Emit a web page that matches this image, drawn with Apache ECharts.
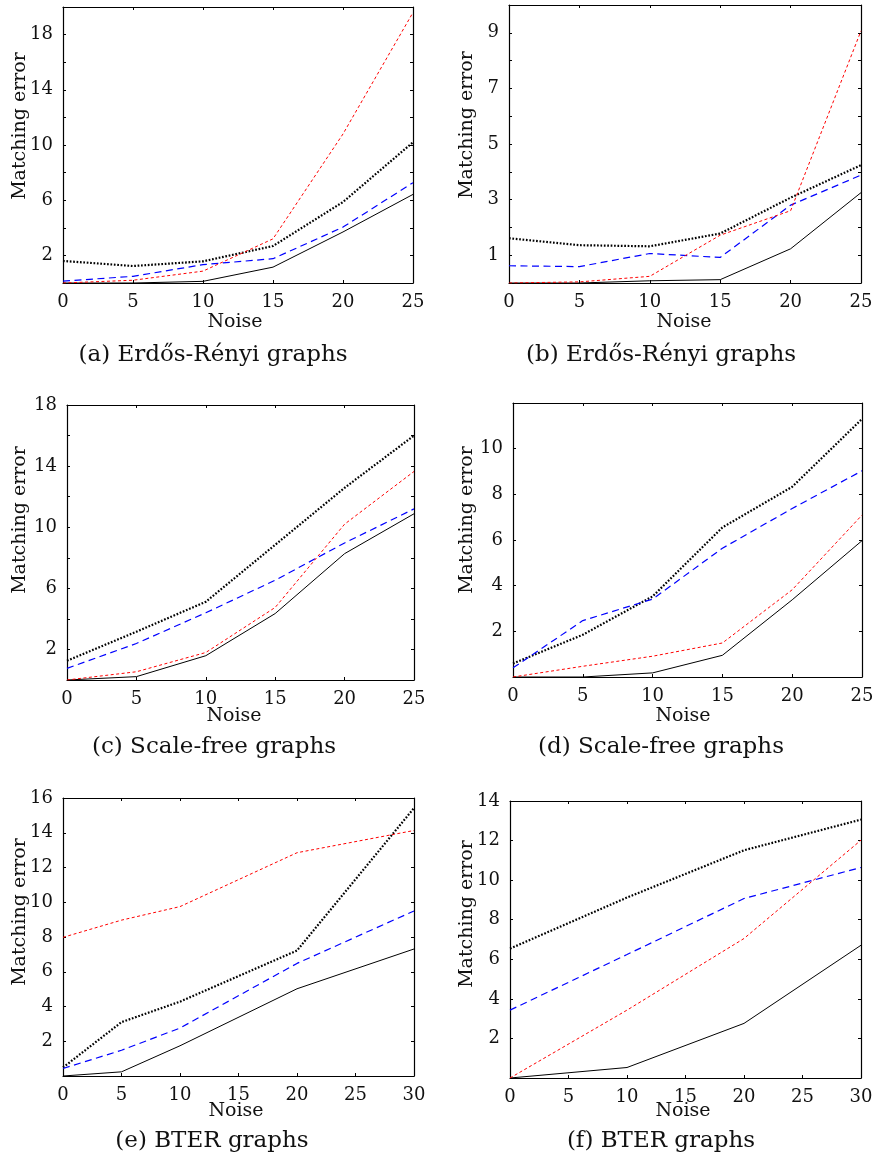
<!DOCTYPE html>
<html>
<head>
<meta charset="utf-8">
<script src="https://cdn.jsdelivr.net/npm/echarts@6/dist/echarts.min.js"></script>
<style>
html,body{margin:0;padding:0;background:#fff;}
#chart{width:881px;height:1158px;}
</style>
</head>
<body>
<div id="chart"></div>
<script>
// ---------- data ----------
const noise25 = [0, 5, 10, 15, 20, 25];
const noiseE = [0, 5, 10, 20, 30];
const noiseF = [0, 10, 20, 30];

const captions = ['(a) Erdős-Rényi graphs', '(b) Erdős-Rényi graphs', '(c) Scale-free graphs',
                  '(d) Scale-free graphs', '(e) BTER graphs', '(f) BTER graphs'];
const yAxisName = 'Matching error';
const xAxisName = 'Noise';

// panel (a)
const aSolid  = [0, 0, 0.12, 1.15, 3.7, 6.42];
const aDotted = [1.6, 1.23, 1.57, 2.68, 5.87, 10.2];
const aBlue   = [0.14, 0.48, 1.33, 1.76, 4.05, 7.27];
const aRed    = [0, 0.2, 0.86, 3.2, 10.8, 19.6];
// panel (b)
const bSolid  = [0, 0, 0.08, 0.12, 1.23, 3.25];
const bDotted = [1.61, 1.36, 1.32, 1.78, 3.07, 4.24];
const bBlue   = [0.62, 0.59, 1.06, 0.92, 2.8, 3.88];
const bRed    = [0, 0.04, 0.24, 1.72, 2.6, 9.07];
// panel (c)
const cSolid  = [0, 0.22, 1.59, 4.35, 8.27, 10.88];
const cDotted = [1.26, 3.16, 5.12, 8.85, 12.58, 16.0];
const cBlue   = [0.76, 2.39, 4.4, 6.53, 8.97, 11.2];
const cRed    = [0, 0.54, 1.8, 4.75, 10.2, 13.65];
// panel (d)
const dSolid  = [0, 0, 0.18, 0.95, 3.38, 5.97];
const dDotted = [0.59, 1.85, 3.53, 6.55, 8.33, 11.3];
const dBlue   = [0.4, 2.47, 3.41, 5.64, 7.38, 9.03];
const dRed    = [0, 0.47, 0.91, 1.49, 3.82, 7.09];
// panel (e)
const eSolid  = [0, 0.24, 1.74, 5.02, 7.31];
const eDotted = [0.49, 3.1, 4.28, 7.22, 15.42];
const eBlue   = [0.43, 1.48, 2.76, 6.48, 9.5];
const eRed    = [7.98, 8.97, 9.75, 12.85, 14.13];
// panel (f)
const fSolid  = [0, 0.53, 2.76, 6.71];
const fDotted = [6.54, 9.12, 11.51, 13.06];
const fBlue   = [3.43, 6.24, 9.07, 10.64];
const fRed    = [0, 3.43, 7.05, 12.02];

// ---------- layout / styles ----------
const FONT = 'DejaVu Serif';
const panels = [
  { x: noise25, data: [aSolid, aDotted, aBlue, aRed], xMax: 25, yMax: 20, yInt: 2, lab: v => v % 4 === 2,
    grid: {left: 63, top: 7, width: 350, height: 276}, yName: [20, 126], xName: [235, 322], cap: [213, 355] },
  { x: noise25, data: [bSolid, bDotted, bBlue, bRed], xMax: 25, yMax: 10, yInt: 1, lab: v => v % 2 === 1,
    grid: {left: 509, top: 5, width: 352, height: 278}, yName: [467, 125], xName: [684, 322], cap: [661, 355] },
  { x: noise25, data: [cSolid, cDotted, cBlue, cRed], xMax: 25, yMax: 18, yInt: 2, lab: v => v % 4 === 2,
    grid: {left: 67, top: 405, width: 347, height: 275}, yName: [20, 520], xName: [234, 716], cap: [214, 747] },
  { x: noise25, data: [dSolid, dDotted, dBlue, dRed], xMax: 25, yMax: 12, yInt: 2, lab: v => v > 0 && v < 12,
    grid: {left: 513, top: 403, width: 349, height: 274}, yName: [467, 520], xName: [683, 716], cap: [661, 747] },
  { x: noiseE, data: [eSolid, eDotted, eBlue, eRed], xMax: 30, yMax: 16, yInt: 2, lab: v => v > 0,
    grid: {left: 63, top: 798, width: 351, height: 278}, yName: [20, 912], xName: [236, 1111], cap: [212, 1141] },
  { x: noiseF, data: [fSolid, fDotted, fBlue, fRed], xMax: 30, yMax: 14, yInt: 2, lab: v => v > 0,
    grid: {left: 510, top: 801, width: 351, height: 277}, yName: [467, 914], xName: [683, 1111], cap: [661, 1141] }
];

const lineStyles = [
  {color: '#000000', width: 1, type: 'solid'},
  {color: '#000000', width: 2.2, type: [1.7, 1.7]},
  {color: '#0000ff', width: 1.2, type: [7, 4.5]},
  {color: '#ff0000', width: 1, type: [3, 2.5]}
];

const grids = [], xAxes = [], yAxes = [], series = [], graphics = [];
panels.forEach((p, i) => {
  grids.push(Object.assign({containLabel: false, show: false}, p.grid));
  const baseX = {type: 'value', gridIndex: i, min: 0, max: p.xMax, interval: 5,
    axisLine: {show: true, onZero: false, lineStyle: {color: '#000', width: 1.2}},
    axisTick: {show: true, inside: true, length: 3, lineStyle: {color: '#000'}},
    splitLine: {show: false}};
  xAxes.push(Object.assign({}, baseX, {position: 'bottom',
    axisLabel: {show: true, margin: 10, color: '#111', fontFamily: FONT, fontSize: 18}}));
  xAxes.push(Object.assign({}, baseX, {position: 'top', axisLabel: {show: false}}));
  const baseY = {type: 'value', gridIndex: i, min: 0, max: p.yMax, interval: p.yInt,
    axisLine: {show: true, onZero: false, lineStyle: {color: '#000', width: 1.2}},
    axisTick: {show: true, inside: true, length: 3, lineStyle: {color: '#000'}},
    splitLine: {show: false}};
  yAxes.push(Object.assign({}, baseY, {position: 'left',
    axisLabel: {show: true, margin: 10, color: '#111', fontFamily: FONT, fontSize: 18,
      formatter: v => (p.lab(v) ? String(v) : '')}}));
  yAxes.push(Object.assign({}, baseY, {position: 'right', axisLabel: {show: false}}));
  p.data.forEach((vals, k) => {
    series.push({type: 'line', xAxisIndex: 2 * i, yAxisIndex: 2 * i,
      data: p.x.map((xv, j) => [xv, vals[j]]),
      showSymbol: false, symbol: 'none', animation: false, silent: true,
      lineStyle: Object.assign({cap: 'butt'}, lineStyles[k]), z: 2 + k});
  });
  graphics.push({type: 'text', x: p.yName[0], y: p.yName[1], rotation: Math.PI / 2,
    style: {text: yAxisName, font: '19px "' + FONT + '"', fill: '#111',
      textAlign: 'center', textVerticalAlign: 'middle', align: 'center', verticalAlign: 'middle'}});
  graphics.push({type: 'text', x: p.xName[0], y: p.xName[1],
    style: {text: xAxisName, font: '19px "' + FONT + '"', fill: '#111',
      textAlign: 'center', textVerticalAlign: 'middle', align: 'center', verticalAlign: 'middle'}});
  graphics.push({type: 'text', x: p.cap[0], y: p.cap[1],
    style: {text: captions[i], font: '23px "' + FONT + '"', fill: '#111',
      textAlign: 'center', textVerticalAlign: 'middle', align: 'center', verticalAlign: 'middle'}});
});

const chart = echarts.init(document.getElementById('chart'), null, {renderer: 'canvas'});
chart.setOption({
  backgroundColor: '#ffffff',
  animation: false,
  grid: grids,
  xAxis: xAxes,
  yAxis: yAxes,
  series: series,
  graphic: graphics
});
</script>
</body>
</html>
